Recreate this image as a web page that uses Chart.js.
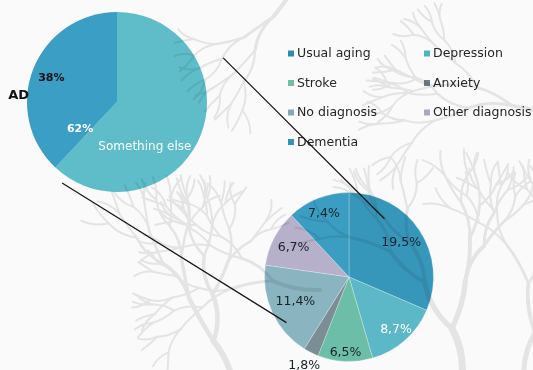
<!DOCTYPE html>
<html>
<head>
<meta charset="utf-8">
<script src="https://cdn.jsdelivr.net/npm/chart.js@4.4.1/dist/chart.umd.min.js"></script>
<style>
  html, body { margin: 0; padding: 0; background: #fafafa; }
  #wrap { position: relative; width: 533px; height: 370px; overflow: hidden; background: #fafafa; }
  #wrap canvas { position: absolute; left: 0; top: 0; }
  #trees { mix-blend-mode: multiply; }
</style>
</head>
<body>
<div id="wrap">
  <canvas id="mainPie" width="533" height="370"></canvas>
  <canvas id="detailPie" width="533" height="370"></canvas>
  <canvas id="trees" width="533" height="370"></canvas>
</div>
<script>
// --- data ---
const mainLabels = ["Something else", "AD"];
const mainValues = [62, 38];

const detailLabels = ["Usual aging", "Depression", "Stroke", "Anxiety", "No diagnosis", "Other diagnosis", "Dementia"];
const detailValues = [19.5, 8.7, 6.5, 1.8, 11.4, 6.7, 7.4];

// --- styles ---
const mainColors = ["#5ebdc8", "#3a9ec5"];
const detailColors = ["#3797bb", "#5cb8c6", "#6dbea8", "#7c8e95", "#8ab4c0", "#b6b0cb", "#3a9dc1"];
const legendColors = ["#2b8db1", "#4fb4bf", "#6fc09f", "#6e7e85", "#86a8b2", "#aaa6c4", "#2f95bb"];
// label distance from the centre, as a share of the radius
const detailLabelRadius = [0.74, 0.84, 0.9, 1.18, 0.7, 0.74, 0.81];
const detailLabelWhite = [false, true, false, false, false, false, false];
const FONT = "'DejaVu Sans', Verdana, sans-serif";

// faint branching trees laid over the page (multiplied, so they tint the pies too)
(function drawTrees() {
  const ctx = document.getElementById("trees").getContext("2d");
  ctx.strokeStyle = "#e9e9e9";
  ctx.lineCap = "round";
  function branch(x, y, len, ang, w, depth, k) {
    if (depth === 0) return;
    const bend = Math.sin(k * 1.7) * 0.35;
    const x2 = x + Math.cos(ang) * len, y2 = y + Math.sin(ang) * len;
    const cx = x + Math.cos(ang + bend) * len * 0.55, cy = y + Math.sin(ang + bend) * len * 0.55;
    ctx.lineWidth = Math.max(w, 2);
    ctx.beginPath();
    ctx.moveTo(x, y);
    ctx.quadraticCurveTo(cx, cy, x2, y2);
    ctx.stroke();
    branch(x2, y2, len * 0.86, ang - 0.28 - Math.sin(k) * 0.15, w * 0.75, depth - 1, k * 2 + 1);
    branch(x2, y2, len * 0.8, ang + 0.32 + Math.cos(k) * 0.15, w * 0.75, depth - 1, k * 2 + 2);
  }
  branch(460, 390, 62, -1.7, 7, 6, 1);
  branch(525, 390, 58, -1.4, 5, 6, 3);
  branch(235, 395, 58, -1.95, 6, 6, 5);
  branch(320, 290, 48, -2.95, 4, 6, 7);
  branch(560, 120, 50, -2.85, 4, 6, 9);
  branch(300, -20, 45, 2.2, 4, 5, 11);
})();

// slice value labels for the large pie
const mainLabelsPlugin = {
  id: "mainLabels",
  afterDatasetsDraw(chart) {
    const arc = chart.getDatasetMeta(0).data[0];
    const cx = arc.x, cy = arc.y, r = arc.outerRadius;
    const ctx = chart.ctx;
    ctx.save();
    ctx.textBaseline = "middle";
    ctx.textAlign = "center";
    ctx.font = "bold 11px " + FONT;
    ctx.fillStyle = "#111";
    ctx.fillText(mainValues[1] + "%", cx - 0.73 * r, cy - 0.27 * r);
    ctx.fillStyle = "#ffffff";
    ctx.fillText(mainValues[0] + "%", cx - 0.41 * r, cy + 0.3 * r);
    ctx.font = "12px " + FONT;
    ctx.fillText(mainLabels[0], cx + 0.31 * r, cy + 0.5 * r);
    ctx.textAlign = "right";
    ctx.font = "bold 13px " + FONT;
    ctx.fillStyle = "#111";
    ctx.fillText(mainLabels[1], cx - r + 2, cy - 0.07 * r);
    ctx.restore();
  }
};

const mainChart = new Chart(document.getElementById("mainPie"), {
  type: "pie",
  data: {
    labels: mainLabels,
    datasets: [{ data: mainValues, backgroundColor: mainColors, borderWidth: 0 }]
  },
  options: {
    responsive: false,
    animation: false,
    layout: { padding: { left: 27, top: 12, right: 326, bottom: 178 } },
    plugins: { legend: { display: false }, tooltip: { enabled: false } }
  },
  plugins: [mainLabelsPlugin]
});

// labels, legend grid and the two connector lines for the detail pie
const detailPlugin = {
  id: "detailExtras",
  afterDatasetsDraw(chart) {
    const ctx = chart.ctx;
    const meta = chart.getDatasetMeta(0);
    ctx.save();
    ctx.textBaseline = "middle";
    ctx.textAlign = "center";
    ctx.font = "12.5px " + FONT;
    meta.data.forEach((arc, i) => {
      const mid = (arc.startAngle + arc.endAngle) / 2;
      const rr = arc.outerRadius * detailLabelRadius[i];
      ctx.fillStyle = detailLabelWhite[i] ? "#ffffff" : "#172328";
      ctx.fillText(detailValues[i].toFixed(1).replace(".", ",") + "%",
        arc.x + Math.cos(mid) * rr, arc.y + Math.sin(mid) * rr);
    });

    // legend: two columns, filled row by row
    ctx.textAlign = "left";
    ctx.font = "12.5px " + FONT;
    detailLabels.forEach((label, i) => {
      const col = i % 2, row = Math.floor(i / 2);
      const x = 288 + col * 136, y = 54 + row * 29.5;
      ctx.fillStyle = legendColors[i];
      ctx.fillRect(x, y - 3.5, 6, 6);
      ctx.fillStyle = "#262626";
      ctx.fillText(label, x + 9, y);
    });

    // connectors from the large pie to the detail pie
    const big = mainChart.getDatasetMeta(0).data[0];
    const small = meta.data[0];
    const br = big.outerRadius, sr = small.outerRadius;
    ctx.strokeStyle = "#1a1a1a";
    ctx.lineWidth = 1.3;
    ctx.beginPath();
    ctx.moveTo(big.x + 1.18 * br, big.y - 0.49 * br);
    ctx.lineTo(small.x + 0.42 * sr, small.y - 0.69 * sr);
    ctx.moveTo(big.x - 0.61 * br, big.y + 0.9 * br);
    ctx.lineTo(small.x - 0.74 * sr, small.y + 0.54 * sr);
    ctx.stroke();
    ctx.restore();
  }
};

new Chart(document.getElementById("detailPie"), {
  type: "pie",
  data: {
    labels: detailLabels,
    datasets: [{
      data: detailValues,
      backgroundColor: detailColors,
      borderColor: "rgba(255,255,255,0.25)",
      borderWidth: 1
    }]
  },
  options: {
    responsive: false,
    animation: false,
    layout: { padding: { left: 264, top: 192, right: 99, bottom: 8 } },
    plugins: { legend: { display: false }, tooltip: { enabled: false } }
  },
  plugins: [detailPlugin]
});
</script>
</body>
</html>
